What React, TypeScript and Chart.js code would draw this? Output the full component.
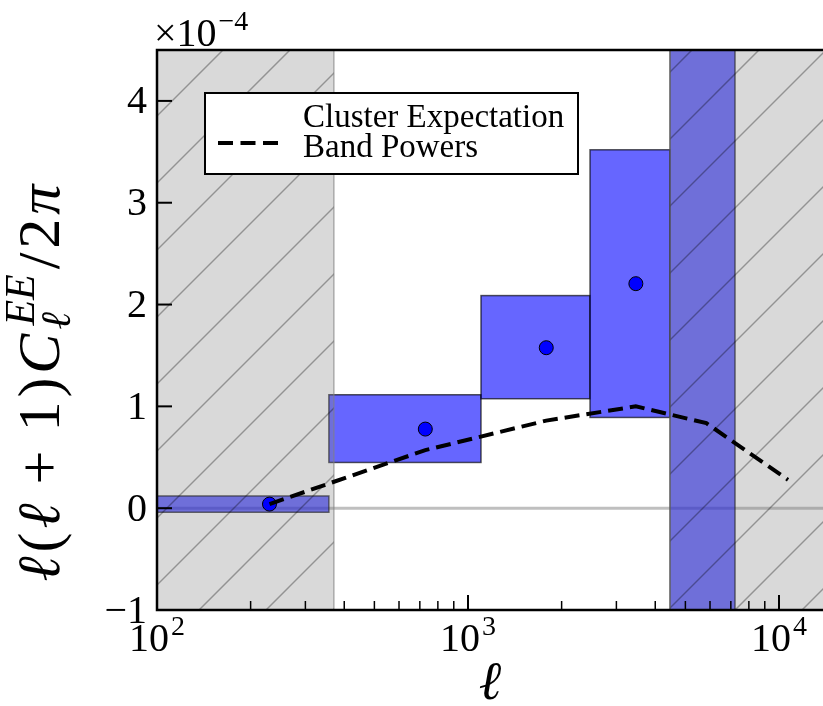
import React, { useEffect, useRef } from "react";
import { Chart, registerables } from "chart.js";

Chart.register(...registerables);

// ---- data (values in units of 1e-4) ----
const binEdges = [100, 357, 1101, 2468, 4462, 7220, 14160];
const bandLow = [-0.04, 0.449, 1.075, 0.891, -3.0];
const bandHigh = [0.12, 1.114, 2.088, 3.52, 8.0];
const bandPowerEll = [230, 729, 1785, 3465];
const bandPowerValues = [0.04, 0.777, 1.576, 2.205];
const expectationEll = [230, 729, 1785, 3465, 5841, 10690];
const expectationValues = [0.04, 0.57, 0.86, 1.0, 0.835, 0.278];
const excludedRanges = [
  [100, 357],
  [4462, 13850],
];
const yTicks = [-1, 0, 1, 2, 3, 4];
const yTickLabels = ["\u22121", "0", "1", "2", "3", "4"];
const xMajorTicks = [100, 1000, 10000];
const xMajorExponents = ["2", "3", "4"];
const legendLabels = ["Cluster Expectation", "Band Powers"];

const X_MIN = 100;
const X_MAX = 13850;
const Y_MIN = -1;
const Y_MAX = 4.5;

const SERIF = "'Liberation Serif', 'DejaVu Serif', serif";

const backgroundPlugin = {
  id: "backgroundMarks",
  beforeDatasetsDraw(chart: any) {
    const { ctx, chartArea, scales } = chart;
    const { left, right, top, bottom } = chartArea;
    const x = scales.x;
    const y = scales.y;
    ctx.save();
    ctx.beginPath();
    ctx.rect(left, top, right - left, bottom - top);
    ctx.clip();

    // zero line
    const y0 = y.getPixelForValue(0);
    ctx.strokeStyle = "rgba(128,128,128,0.5)";
    ctx.lineWidth = 3;
    ctx.beginPath();
    ctx.moveTo(left, y0);
    ctx.lineTo(right, y0);
    ctx.stroke();

    // band power boxes
    for (let i = 0; i < bandLow.length; i++) {
      const xa = x.getPixelForValue(binEdges[i]);
      const xb = x.getPixelForValue(binEdges[i + 1]);
      const ya = y.getPixelForValue(bandHigh[i]);
      const yb = y.getPixelForValue(bandLow[i]);
      ctx.fillStyle = "rgba(0,0,255,0.6)";
      ctx.fillRect(xa, ya, xb - xa, yb - ya);
      ctx.strokeStyle = "rgba(0,0,0,0.65)";
      ctx.lineWidth = 1.5;
      ctx.strokeRect(xa, ya, xb - xa, yb - ya);
    }

    // excluded (hatched) regions
    for (const [lo, hi] of excludedRanges) {
      const xa = Math.max(left, x.getPixelForValue(lo));
      const xb = Math.min(right + 5, x.getPixelForValue(hi) + 5);
      ctx.fillStyle = "rgba(128,128,128,0.3)";
      ctx.fillRect(xa, top, xb - xa, bottom - top);
      ctx.save();
      ctx.beginPath();
      ctx.rect(xa, top, xb - xa, bottom - top);
      ctx.clip();
      ctx.strokeStyle = "rgba(0,0,0,0.32)";
      ctx.lineWidth = 1.5;
      const step = 67;
      const phase = 273;
      for (let c = phase - step * 30; c < xb + bottom + step; c += step) {
        if (c < xa + top - step) continue;
        ctx.beginPath();
        ctx.moveTo(c - bottom, bottom);
        ctx.lineTo(c - top, top);
        ctx.stroke();
      }
      ctx.restore();
      ctx.strokeStyle = "rgba(128,128,128,0.6)";
      ctx.lineWidth = 1.5;
      ctx.strokeRect(xa, top, xb - xa, bottom - top);
    }
    ctx.restore();
  },
};

function drawSci(ctx: any, base: string, exp: string, cx: number, baseline: number, align: string) {
  ctx.font = `40px ${SERIF}`;
  const wb = ctx.measureText(base).width;
  ctx.font = `28px ${SERIF}`;
  const we = ctx.measureText(exp).width;
  const total = wb + 2 + we;
  let sx = cx;
  if (align === "center") sx = cx - total / 2;
  ctx.textAlign = "left";
  ctx.textBaseline = "alphabetic";
  ctx.font = `40px ${SERIF}`;
  ctx.fillText(base, sx, baseline);
  ctx.font = `28px ${SERIF}`;
  ctx.fillText(exp, sx + wb + 2, baseline - 16);
}

const axesPlugin = {
  id: "axesDecor",
  afterDraw(chart: any) {
    const { ctx, chartArea, scales } = chart;
    const { left, right, top, bottom } = chartArea;
    const x = scales.x;
    const y = scales.y;
    ctx.save();
    ctx.fillStyle = "#000";
    ctx.strokeStyle = "#000";

    // ticks (inward)
    ctx.lineWidth = 2;
    for (const v of yTicks) {
      const py = y.getPixelForValue(v);
      ctx.beginPath();
      ctx.moveTo(left, py);
      ctx.lineTo(left + 15, py);
      ctx.stroke();
    }
    for (const v of xMajorTicks) {
      const px = x.getPixelForValue(v);
      ctx.beginPath();
      ctx.moveTo(px, bottom);
      ctx.lineTo(px, bottom - 15);
      ctx.stroke();
    }
    ctx.lineWidth = 1.5;
    for (const dec of [100, 1000, 10000]) {
      for (let k = 2; k <= 9; k++) {
        const v = k * dec;
        if (v < X_MIN || v > X_MAX) continue;
        const px = x.getPixelForValue(v);
        ctx.beginPath();
        ctx.moveTo(px, bottom);
        ctx.lineTo(px, bottom - 9);
        ctx.stroke();
      }
    }

    // spines
    ctx.lineWidth = 2.5;
    ctx.beginPath();
    ctx.moveTo(right + 2, top);
    ctx.lineTo(left, top);
    ctx.lineTo(left, bottom);
    ctx.lineTo(right + 2, bottom);
    ctx.stroke();

    // y tick labels
    ctx.font = `40px ${SERIF}`;
    ctx.textAlign = "right";
    ctx.textBaseline = "middle";
    yTicks.forEach((v, i) => {
      ctx.fillText(yTickLabels[i], left - 10, y.getPixelForValue(v) + 2);
    });

    // x tick labels
    xMajorTicks.forEach((v, i) => {
      drawSci(ctx, "10", xMajorExponents[i], x.getPixelForValue(v), 651, "center");
    });

    // offset text
    drawSci(ctx, "\u00d710", "\u22124", 154, 46, "left");

    // x axis label
    ctx.font = `italic 54px ${SERIF}`;
    ctx.textAlign = "center";
    ctx.textBaseline = "alphabetic";
    ctx.fillText("\u2113", 490, 699);

    // y axis label
    const fs = 60;
    const targetLen = 425;
    const pieces: any[] = [
      { t: "\u2113", it: true },
      { t: "(", it: false },
      { t: "\u2113", it: true },
      { t: " + ", it: false },
      { t: "1", it: false },
      { t: ")", it: false },
      { t: "C", it: true },
      { sup: "EE", sub: "\u2113" },
      { t: "/", it: false },
      { t: "2", it: false },
      { t: "\u03c0", it: true },
    ];
    const fontFor = (it: boolean, size: number) => `${it ? "italic " : ""}${size}px ${SERIF}`;
    const widths = pieces.map((p) => {
      if (p.sup) {
        ctx.font = fontFor(true, fs * 0.7);
        return Math.max(ctx.measureText(p.sup).width, ctx.measureText(p.sub).width) + 5;
      }
      ctx.font = fontFor(p.it, fs);
      return ctx.measureText(p.t).width;
    });
    const rawW = widths.reduce((a, b) => a + b, 0);
    const gap = Math.max(0, Math.min(4, (targetLen - rawW) / (pieces.length - 1)));
    const totalW = rawW + gap * (pieces.length - 1);
    ctx.save();
    ctx.translate(59, 383);
    ctx.rotate(-Math.PI / 2);
    ctx.textAlign = "left";
    ctx.textBaseline = "alphabetic";
    let cx = -totalW / 2;
    pieces.forEach((p, i) => {
      if (p.sup) {
        ctx.font = fontFor(true, fs * 0.7);
        ctx.fillText(p.sup, cx + 4, -fs * 0.42);
        ctx.fillText(p.sub, cx, fs * 0.18);
      } else {
        ctx.font = fontFor(p.it, fs);
        ctx.fillText(p.t, cx, 0);
      }
      cx += widths[i] + gap;
    });
    ctx.restore();

    // legend
    const lx = 205, ly = 93, lw = 373, lh = 81;
    ctx.fillStyle = "#fff";
    ctx.fillRect(lx, ly, lw, lh);
    ctx.strokeStyle = "#000";
    ctx.lineWidth = 2;
    ctx.strokeRect(lx, ly, lw, lh);
    ctx.setLineDash([15, 7.5]);
    ctx.lineWidth = 4;
    ctx.beginPath();
    ctx.moveTo(218, 143);
    ctx.lineTo(279, 143);
    ctx.stroke();
    ctx.setLineDash([]);
    ctx.fillStyle = "#000";
    ctx.font = `33px ${SERIF}`;
    ctx.textAlign = "left";
    ctx.textBaseline = "alphabetic";
    ctx.fillText(legendLabels[0], 303, 127);
    ctx.fillText(legendLabels[1], 303, 157);

    ctx.restore();
  },
};

export default function App() {
  const canvasRef = useRef<HTMLCanvasElement | null>(null);

  useEffect(() => {
    const canvas = canvasRef.current;
    if (!canvas) return;
    const chart = new Chart(canvas, {
      type: "scatter",
      data: {
        datasets: [
          {
            label: legendLabels[0],
            data: expectationEll.map((e, i) => ({ x: e, y: expectationValues[i] })),
            showLine: true,
            borderColor: "#000",
            borderWidth: 4,
            borderDash: [15, 7],
            pointRadius: 0,
            fill: false,
          },
          {
            label: legendLabels[1],
            data: bandPowerEll.map((e, i) => ({ x: e, y: bandPowerValues[i] })),
            showLine: false,
            backgroundColor: "#0000ff",
            borderColor: "#000",
            borderWidth: 1,
            pointRadius: 7,
          },
        ],
      },
      options: {
        responsive: false,
        animation: false,
        events: [],
        layout: { autoPadding: false, padding: { left: 157, top: 50, right: 0, bottom: 96 } },
        plugins: { legend: { display: false }, tooltip: { enabled: false } },
        scales: {
          x: { type: "logarithmic", min: X_MIN, max: X_MAX, display: false },
          y: { type: "linear", min: Y_MIN, max: Y_MAX, display: false },
        },
      },
      plugins: [backgroundPlugin, axesPlugin],
    });
    return () => chart.destroy();
  }, []);

  return (
    <div style={{ position: "absolute", left: 0, top: 0, width: 823, height: 706, background: "#fff" }}>
      <canvas ref={canvasRef} width={823} height={706} style={{ width: 823, height: 706, display: "block" }} />
    </div>
  );
}
